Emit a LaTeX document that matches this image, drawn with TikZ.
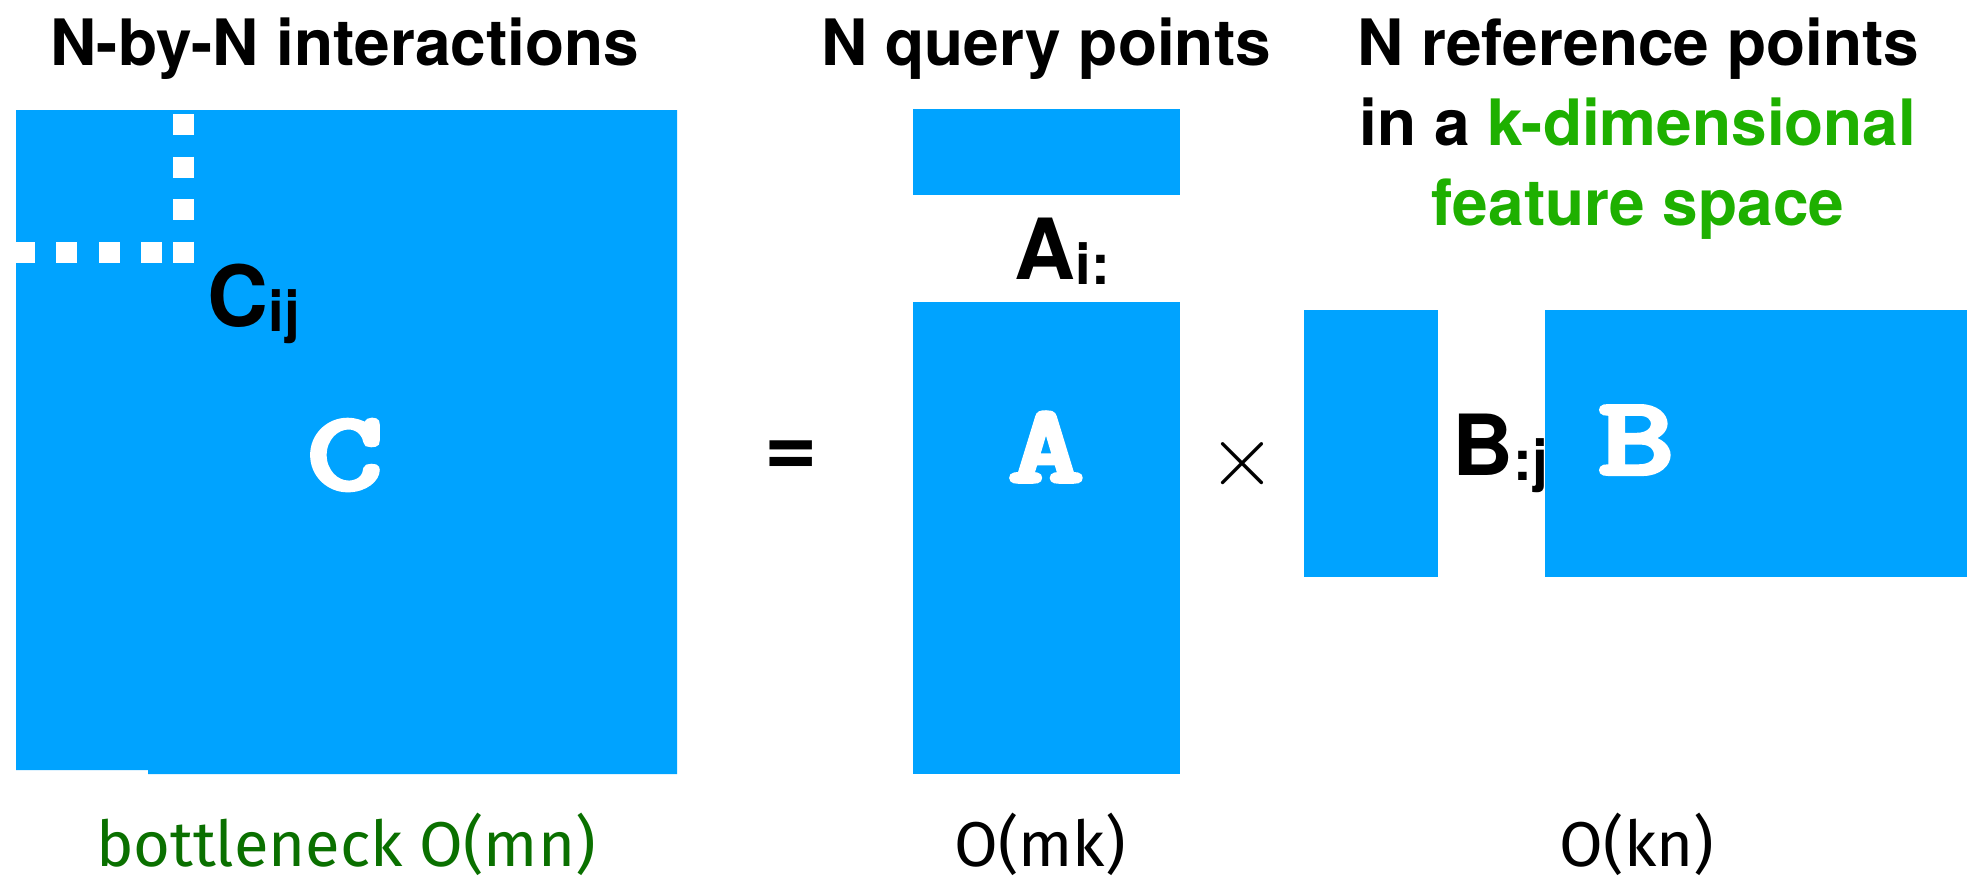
\documentclass[tikz,border=0pt]{standalone}
\usepackage{fontspec}
\usepackage{graphicx}
\setmainfont{TeX Gyre Heros}
\newfontfamily\slabfont{Latin Modern Mono}[FakeBold=5]
\newfontfamily\handfont{Fira Sans}
\definecolor{matblue}{RGB}{0,163,255}
\definecolor{featgreen}{RGB}{30,176,0}
\definecolor{costgreen}{RGB}{10,112,0}
\newcommand{\idx}[1]{\raisebox{-1.5pt}{\fontsize{16}{16}\selectfont #1}}
\newcommand{\wide}[1]{\scalebox{1.32}[1]{#1}}
\tikzset{
  block/.style={fill=matblue},
  title/.style={font=\fontsize{18.2}{18}\selectfont\bfseries, anchor=base, inner sep=0pt},
  elem/.style={font=\fontsize{24}{24}\selectfont\bfseries, anchor=base west, inner sep=0pt},
  mname/.style={text=white, font=\slabfont\fontsize{31}{31}\selectfont, inner sep=0pt},
  cost/.style={font=\handfont\fontsize{18}{18}\selectfont, anchor=base, inner sep=0pt},
  dots/.style={white, line width=0.21cm, dash pattern=on 0.21cm off 0.215cm},
}
\begin{document}
\begin{tikzpicture}[x=0.1mm, y=-0.1mm]
\useasboundingbox (0,0) rectangle (1967,884);

\fill[block] (16,110) -- (677,110) -- (677,774) -- (148,774) -- (148,770) -- (16,770) -- cycle;
\draw[dots] (162,252) -- (16,252);
\draw[dots] (183.5,114) -- (183.5,263);

\fill[block] (913,109) rectangle (1180,195);
\fill[block] (913,302) rectangle (1180,774);

\fill[block] (1304,310) rectangle (1438,577);
\fill[block] (1545,310) rectangle (1967,577);

\node[title] (ttlC) at (345,65) {N-by-N interactions};
\node[title] (ttlA) at (1046,65) {N query points};
\node[title] (ttlB) at (1638,65) {N reference points};
\node[title] (ttlB2) at (1638,145) {in a \textcolor{featgreen}{k-dimensional}};
\node[title] (ttlB3) at (1638,225) {\textcolor{featgreen}{feature space}};

\node[elem] (cij) at (207,326) {C\idx{ij}};
\node[elem] (ai) at (1014,279) {A\idx{i:}};
\node[elem] (bj) at (1452,475) {B\idx{:j}};

\node[mname] (matC) at (345,455) {\wide{C}};
\node[mname] (matA) at (1046,447) {\wide{A}};
\node[mname] (matB) at (1636,440) {\wide{B}};

\node[font=\fontsize{26}{26}\selectfont\bfseries, anchor=base, inner sep=0pt] (eq) at (791,476) {=};
\node[font=\fontsize{25}{25}\selectfont, inner sep=0pt] (times) at (1242,464) {$\times$};

\node[cost, text=costgreen] (costC) at (346,866) {bottleneck O(mn)};
\node[cost] (costA) at (1040,866) {O(mk)};
\node[cost] (costB) at (1637,866) {O(kn)};
\end{tikzpicture}
\end{document}
